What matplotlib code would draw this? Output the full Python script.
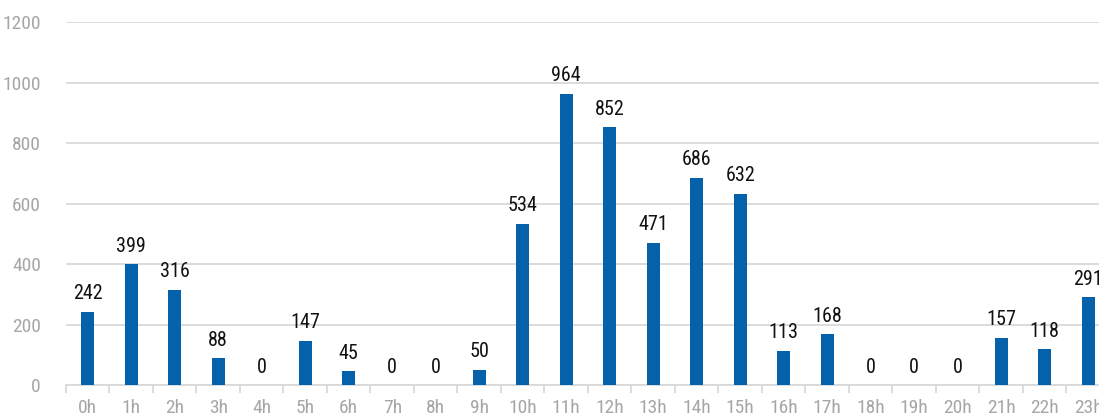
import numpy as np
import matplotlib.pyplot as plt

hours = [f"{h}h" for h in range(24)]
counts = [242, 399, 316, 88, 0, 147, 45, 0, 0, 50, 534, 964,
          852, 471, 686, 632, 113, 168, 0, 0, 0, 157, 118, 291]
y_ticks = [0, 200, 400, 600, 800, 1000, 1200]

plt.rcParams['font.family'] = ['Liberation Sans Narrow', 'Roboto Condensed', 'DejaVu Sans']

fig = plt.figure(figsize=(10.99, 4.19), dpi=100)
# right side of the plot runs past the figure edge, as in the reference
ax = fig.add_axes([0.060, 0.081, 0.950, 0.866])

x = np.arange(len(hours))
ax.bar(x, counts, width=0.3, color='#0561a9', zorder=3)

for xi, v in zip(x, counts):
    ax.text(xi, v + 28, str(v), ha='center', va='bottom', fontsize=14.5, color='#111111')

ax.set_xlim(-0.5, len(hours) - 0.5)
ax.set_ylim(0, 1200)
ax.set_yticks(y_ticks)
ax.grid(axis='y', color='#d9d9d9', linewidth=1.3, zorder=0)

for s in ['top', 'right', 'left']:
    ax.spines[s].set_visible(False)
ax.spines['bottom'].set_color('#d9d9d9')
ax.spines['bottom'].set_linewidth(1.3)

# category labels centred, tick marks on the boundaries
ax.set_xticks(x)
ax.set_xticklabels(hours)
ax.tick_params(axis='x', length=0, pad=10, labelsize=14, labelcolor='#a6a6a6')
ax.set_xticks(np.arange(-0.5, len(hours), 1), minor=True)
ax.tick_params(axis='x', which='minor', length=6, width=1.3, color='#d9d9d9')
ax.tick_params(axis='y', length=0, pad=18, labelsize=14, labelcolor='#a6a6a6')

fig.savefig('out.png', dpi=100)
